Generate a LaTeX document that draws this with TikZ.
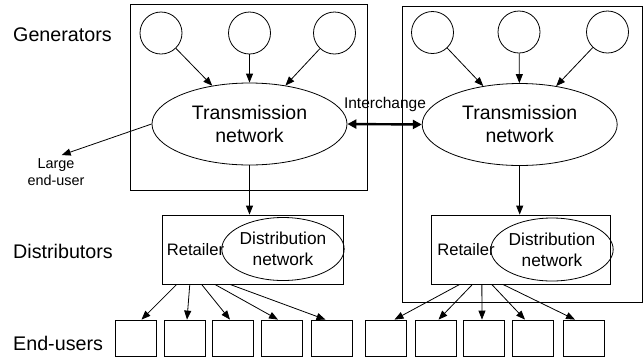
\documentclass[tikz,border=0pt]{standalone}
\usepackage{fontspec}
\setmainfont{Liberation Sans}
\usetikzlibrary{shapes.geometric,arrows.meta,calc}
\begin{document}
\begin{tikzpicture}[x=1pt,y=-1pt,
  thin line/.style={line width=0.8pt},
  arr/.style={thin line,-{Triangle[length=9pt,width=7pt]}},
  dblarr/.style={line width=2.4pt,{Triangle[length=9pt,width=9pt]}-{Triangle[length=9pt,width=9pt]}},
  outerbox/.style={draw,thin line,inner sep=0pt},
  gen/.style={draw,thin line,circle,minimum size=42pt,inner sep=0pt},
  tnet/.style={draw,thin line,ellipse,minimum width=195pt,minimum height=82pt,inner sep=0pt,align=center,font=\fontsize{19.5}{23}\selectfont},
  dbox/.style={draw,thin line,minimum width=180pt,minimum height=69pt,inner sep=0pt},
  dnet/.style={draw,thin line,ellipse,minimum width=105pt,minimum height=63pt,inner sep=0pt,align=center,font=\fontsize{17.3}{21}\selectfont},
  ret/.style={inner sep=0pt,font=\fontsize{16.6}{20}\selectfont},
  ubox/.style={draw,thin line,minimum width=41pt,minimum height=36pt,inner sep=0pt},
  rowlabel/.style={inner sep=0pt,anchor=west,font=\fontsize{19.7}{23}\selectfont},
  smalllabel/.style={inner sep=1pt,align=center,font=\fontsize{14.4}{17.5}\selectfont}
]
\useasboundingbox (0,0) rectangle (643,360);

% outer boxes
\node[outerbox,minimum width=237pt,minimum height=186pt] (boxL) at (248.5,97) {};
\node[outerbox,minimum width=240pt,minimum height=296pt] (boxR) at (522,154) {};

% row labels
\node[rowlabel] (lgen) at (13,35) {Generators};
\node[rowlabel] (ldist) at (13,251) {Distributors};
\node[rowlabel] (lend) at (13,343) {End-users};

% generators
\node[gen] (g1) at (161,33) {};
\node[gen] (g2) at (249.5,33) {};
\node[gen] (g3) at (334.5,33) {};
\node[gen] (g4) at (432.5,32.5) {};
\node[gen] (g5) at (519,32) {};
\node[gen] (g6) at (607.5,32) {};

% transmission networks
\node[tnet] (tL) at (249.5,124) {Transmission\\network};
\node[tnet] (tR) at (519.7,124.5) {Transmission\\network};

\foreach \g in {g1,g2,g3} \draw[arr] (\g) -- (tL);
\foreach \g in {g4,g5,g6} \draw[arr] (\g) -- (tR);

% large end-user
\node[smalllabel] (leu) at (56,172) {Large\\end-user};
\draw[arr,shorten >=6pt] (tL.west) -- (leu.north);

% interchange
\draw[dblarr] (tL.east) -- (tR.west);
\node[inner sep=0pt,font=\fontsize{15.5}{18}\selectfont] (ich) at (385,104.5) {Interchange};

% distributors
\node[dbox,minimum width=181pt] (dL) at (252.5,249.5) {};
\node[dbox,minimum width=179pt] (dR) at (520.5,249.5) {};
\node[ret] (rL) at (195.5,250) {Retailer};
\node[ret] (rR) at (466,250) {Retailer};
\node[dnet,minimum width=104pt] (nL) at (283,249) {Distribution\\network};
\node[dnet] (nR) at (552,249.5) {Distribution\\network};

\draw[arr] (tL) -- (tL |- dL.north);
\draw[arr] (tR) -- (tR |- dR.north);

% end-users
\foreach \n/\x in {1/135.5,2/185,3/233,4/282,5/331.5,6/385.5,7/435.5,8/483.5,9/533,10/584}
  \node[ubox] (e\n) at (\x,338) {};

\draw[arr] ($(dL.south west)!0.083!(dL.south east)$) -- ($(e1.north)+(6,0)$);
\draw[arr] ($(dL.south west)!0.155!(dL.south east)$) -- ($(e2.north)+(2,0)$);
\draw[arr] ($(dL.south west)!0.22!(dL.south east)$) -- ($(e3.north)+(-3,0)$);
\draw[arr] ($(dL.south west)!0.293!(dL.south east)$) -- ($(e4.north)+(-4,0)$);
\draw[arr] ($(dL.south west)!0.376!(dL.south east)$) -- ($(e5.north)+(-6,0)$);

\draw[arr] ($(dR.south west)!0.162!(dR.south east)$) -- ($(e6.north)+(9,0)$);
\draw[arr] ($(dR.south west)!0.233!(dR.south east)$) -- ($(e7.north)+(3,0)$);
\draw[arr] ($(dR.south west)!0.285!(dR.south east)$) -- ($(e8.north)+(-1.5,0)$);
\draw[arr] ($(dR.south west)!0.34!(dR.south east)$) -- ($(e9.north)+(-8,0)$);
\draw[arr] ($(dR.south west)!0.402!(dR.south east)$) -- ($(e10.north)+(-9,0)$);
\end{tikzpicture}
\end{document}
